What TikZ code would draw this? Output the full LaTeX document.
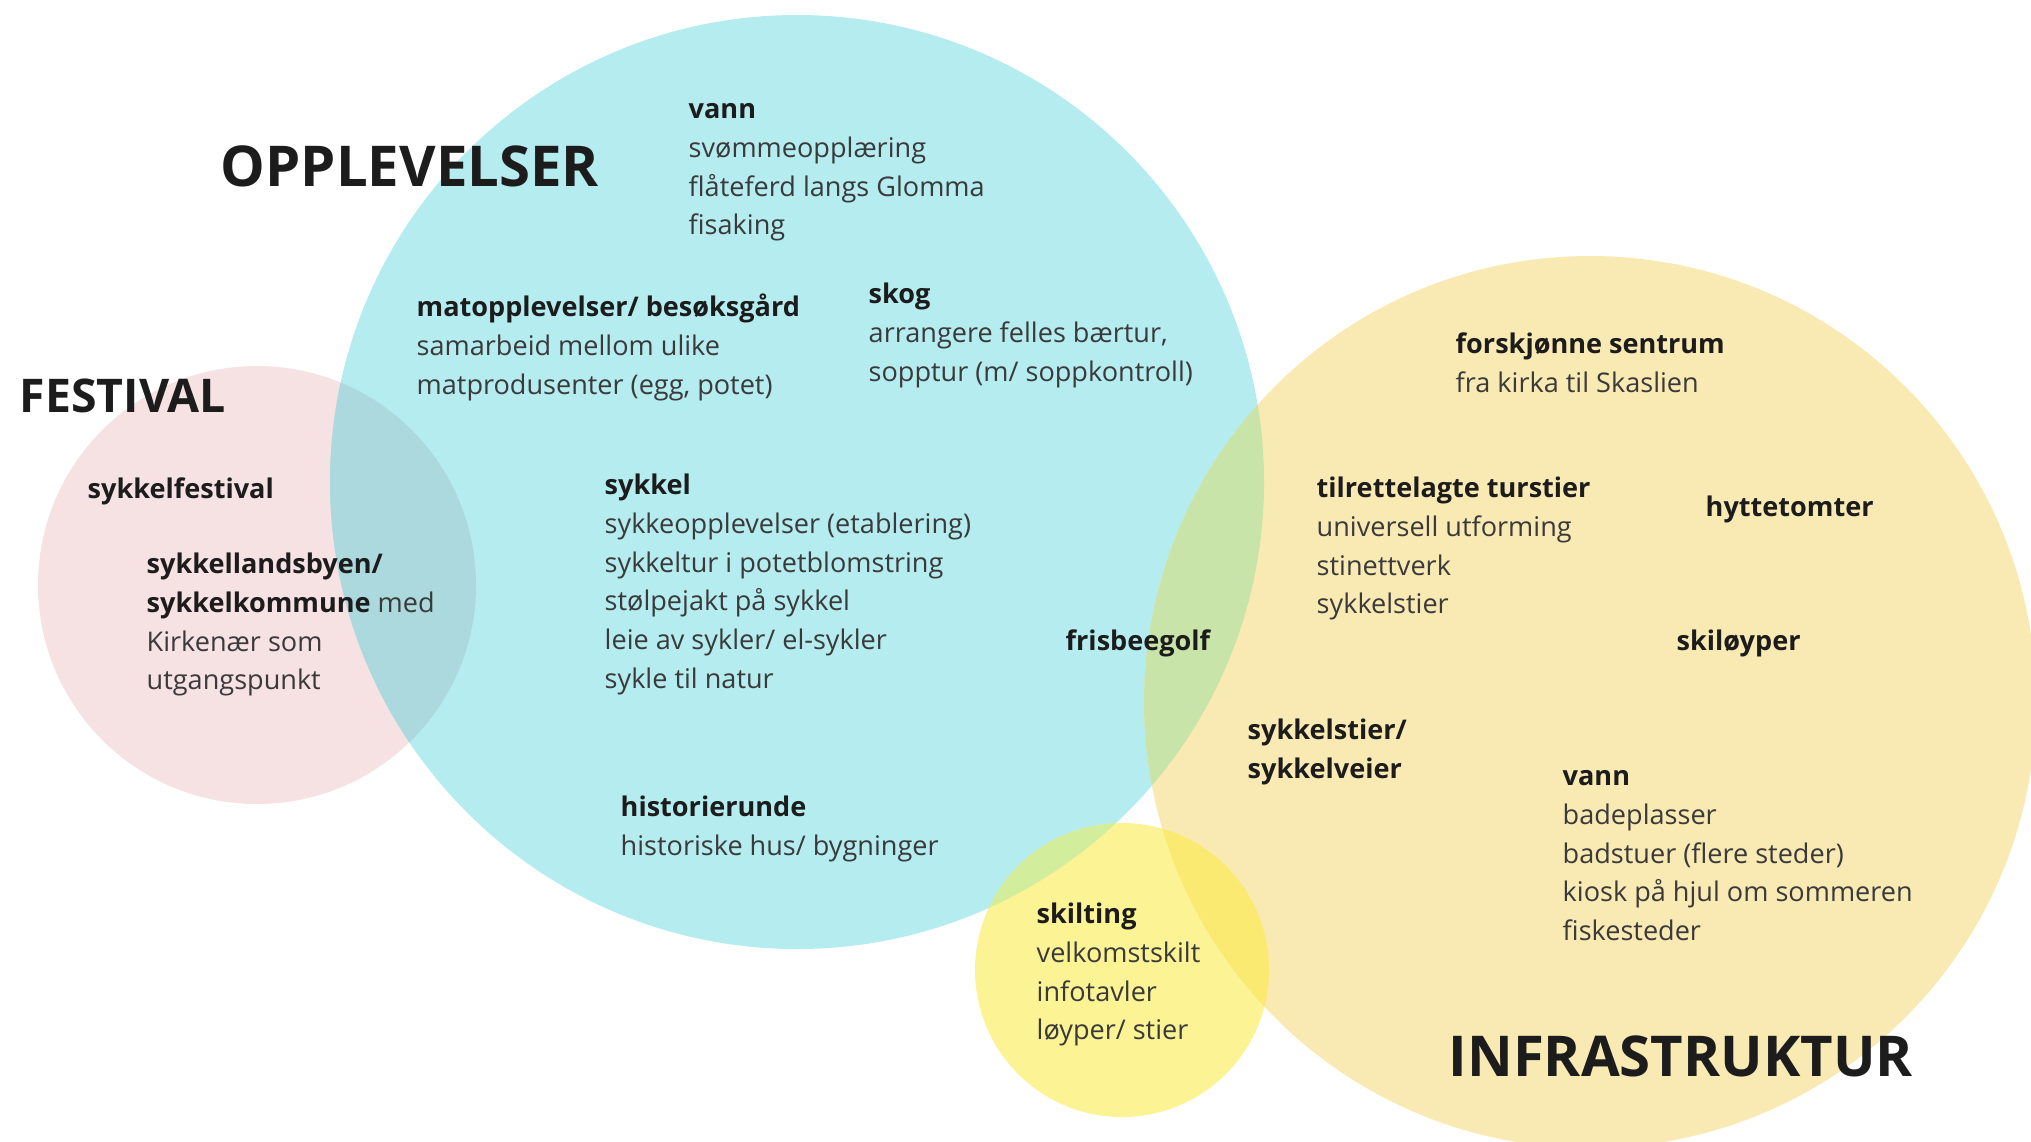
\documentclass[tikz,border=0pt]{standalone}
\usepackage{fontspec}
\setmainfont{Open Sans}
\usepackage{tikz}
\usetikzlibrary{positioning}
\definecolor{rosa}{HTML}{F6E1E3}
\definecolor{turkis}{HTML}{B4ECF0}
\definecolor{sand}{HTML}{F9E9B3}
\definecolor{gul}{HTML}{FCF394}
\definecolor{rosaturkis}{HTML}{ABD9DD}
\definecolor{turkissand}{HTML}{C9E4A8}
\definecolor{turkisgul}{HTML}{D2EE9C}
\definecolor{sandgul}{HTML}{FBEA72}
\definecolor{mork}{HTML}{1C1C1C}
\definecolor{gra}{HTML}{3A3A3A}
\newcommand{\overskrift}[1]{\textcolor{mork}{\textbf{#1}}}
\tikzset{
	tekst/.style={
		anchor=north west,
		inner sep=0pt,
		align=left,
		text=gra,
		font=\fontsize{7.7}{11}\selectfont},
	tittel/.style={
		anchor=west,
		inner sep=0pt,
		text=mork,
		font=\fontsize{16}{19}\selectfont\bfseries},
}

\begin{document}
\begin{tikzpicture}[x=0.01cm, y=-0.01cm]
	\clip (0,0) rectangle (2031,1141);
	% sirklene
	\coordinate (festival) at (257,585);
	\coordinate (opplevelser) at (797,482);
	\coordinate (infrastruktur) at (1590,702);
	\coordinate (skilt) at (1122,970);
	\fill[rosa] (festival) circle (219);
	\fill[turkis] (opplevelser) circle (467);
	\fill[sand] (infrastruktur) circle (446);
	\fill[gul] (skilt) circle (147);
	% overlapp
	\begin{scope}
		\clip (festival) circle (219);
		\fill[rosaturkis] (opplevelser) circle (467);
	\end{scope}
	\begin{scope}
		\clip (opplevelser) circle (467);
		\fill[turkissand] (infrastruktur) circle (446);
		\fill[turkisgul] (skilt) circle (147);
	\end{scope}
	\begin{scope}
		\clip (infrastruktur) circle (446);
		\fill[sandgul] (skilt) circle (147);
	\end{scope}
	
	% titler
	\node[tittel] (T1) at (220,166) {OPPLEVELSER};
	\node[tittel, font=\fontsize{13.2}{16}\selectfont\bfseries] (T2) at (19,396) {FESTIVAL};
	\node[tittel] (T3) at (1448,1056) {INFRASTRUKTUR};
	
	% opplevelser
	\node[tekst] (vann) at (688,91) {\strut\overskrift{vann}\\
		svømmeopplæring\\
		flåteferd langs Glomma\\
		fisaking};
	\node[tekst] (mat) at (416,289) {\strut\overskrift{matopplevelser/ besøksgård}\\
		samarbeid mellom ulike\\
		matprodusenter (egg, potet)};
	\node[tekst] (skog) at (868,276) {\strut\overskrift{skog}\\
		arrangere felles bærtur,\\
		sopptur (m/ soppkontroll)};
	\node[tekst] (sykkel) at (604,467) {\strut\overskrift{sykkel}\\
		sykkeopplevelser (etablering)\\
		sykkeltur i potetblomstring\\
		stølpejakt på sykkel\\
		leie av sykler/ el-sykler\\
		sykle til natur};
	\node[tekst] (historie) at (620,789) {\strut\overskrift{historierunde}\\
		historiske hus/ bygninger};
	\node[tekst] (frisbee) at (1065,623) {\strut\overskrift{frisbeegolf}};
	
	% festival
	\node[tekst] (sfest) at (87,471) {\strut\overskrift{sykkelfestival}};
	\node[tekst] (landsby) at (146,546) {\strut\overskrift{sykkellandsbyen/}\\
		\overskrift{sykkelkommune} med\\
		Kirkenær som\\
		utgangspunkt};
	
	% infrastruktur
	\node[tekst] (sentrum) at (1455,326) {\strut\overskrift{forskjønne sentrum}\\
		fra kirka til Skaslien};
	\node[tekst] (turstier) at (1316,470) {\strut\overskrift{tilrettelagte turstier}\\
		universell utforming\\
		stinettverk\\
		sykkelstier};
	\node[tekst] (hytte) at (1705,489) {\strut\overskrift{hyttetomter}};
	\node[tekst] (ski) at (1676,623) {\strut\overskrift{skiløyper}};
	\node[tekst] (sykkelvei) at (1247,712) {\strut\overskrift{sykkelstier/}\\
		\overskrift{sykkelveier}};
	\node[tekst] (vann2) at (1562,758) {\strut\overskrift{vann}\\
		badeplasser\\
		badstuer (flere steder)\\
		kiosk på hjul om sommeren\\
		fiskesteder};
	\node[tekst] (skilting) at (1036,896) {\strut\overskrift{skilting}\\
		velkomstskilt\\
		infotavler\\
		løyper/ stier};
\end{tikzpicture}
\end{document}
